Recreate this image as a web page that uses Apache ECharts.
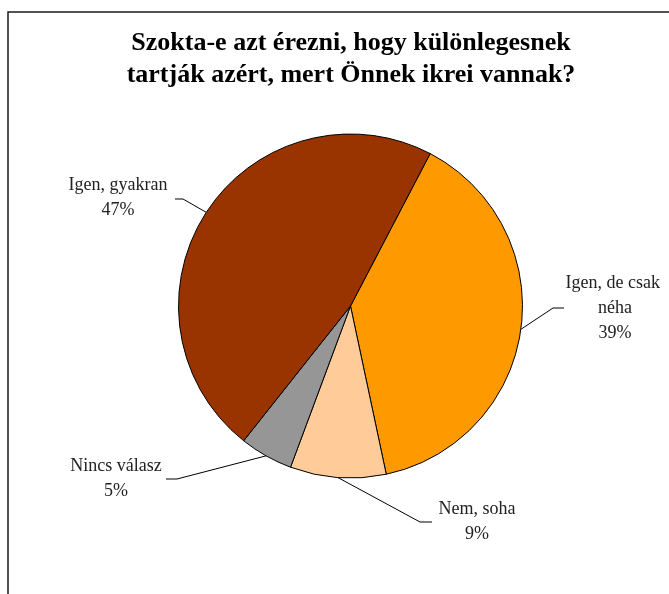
<!DOCTYPE html>
<html>
<head>
<meta charset="utf-8">
<script src="https://cdn.jsdelivr.net/npm/echarts@6/dist/echarts.min.js"></script>
<style>
  html, body { margin: 0; padding: 0; background: #fff; }
  #chart { width: 669px; height: 594px; }
</style>
</head>
<body>
<div id="chart"></div>
<script>
// adatok
const categories = ['Igen, de csak néha', 'Nem, soha', 'Nincs válasz', 'Igen, gyakran']
const shares = [39, 9, 5, 47]
const colors = ['#FF9900', '#FFCC99', '#969696', '#993300']

// címkék helye (középpont) és a vezetővonal töréspontja/vége
const labelSpots = [
    { x: 615, y: 308, elbow: [553, 308], end: [564, 308] },
    { x: 477, y: 522, elbow: [420, 522], end: [432, 522] },
    { x: 116, y: 479, elbow: [177, 479], end: [166, 479] },
    { x: 118, y: 198, elbow: [183, 199], end: [175, 199] },
]

const dom = document.getElementById('chart')
const myChart = echarts.init(dom)

const option = {
    animation: false,
    title: {
        text: 'Szokta-e azt érezni, hogy különlegesnek\ntartják azért, mert Önnek ikrei vannak?',
        left: 346,
        top: 22,
        textAlign: 'center',
        textStyle: {
            fontFamily: 'Liberation Serif',
            fontWeight: 'bold',
            fontSize: 26,
            lineHeight: 32,
            color: '#000',
        },
    },
    graphic: [
        {
            type: 'rect',
            shape: { x: 8, y: 12, width: 720, height: 640 },
            style: { fill: 'none', stroke: '#1a1a1a', lineWidth: 1.5 },
            silent: true,
        },
    ],
    series: [
        {
            type: 'pie',
            center: [350.5, 306],
            radius: 172,
            startAngle: 62.4,
            clockwise: true,
            itemStyle: { borderColor: '#000', borderWidth: 1 },
            label: {
                show: true,
                position: 'outside',
                formatter: '{b}\n{d}%',
                fontFamily: 'Liberation Serif',
                fontSize: 18,
                lineHeight: 25,
                color: '#222',
                width: 120,
                overflow: 'break',
                align: 'center',
            },
            labelLine: {
                show: true,
                length: 20,
                length2: 10,
                lineStyle: { color: '#000', width: 1 },
            },
            labelLayout: function (params) {
                const spot = labelSpots[params.dataIndex]
                const start = params.labelLinePoints ? params.labelLinePoints[0] : spot.elbow
                return {
                    x: spot.x,
                    y: spot.y,
                    align: 'center',
                    verticalAlign: 'middle',
                    labelLinePoints: [start, spot.elbow, spot.end],
                }
            },
            emphasis: { disabled: true },
            data: categories.map((name, i) => ({
                name: name,
                value: shares[i],
                itemStyle: { color: colors[i] },
            })),
        },
    ],
}
myChart.setOption(option)
</script>
</body>
</html>
